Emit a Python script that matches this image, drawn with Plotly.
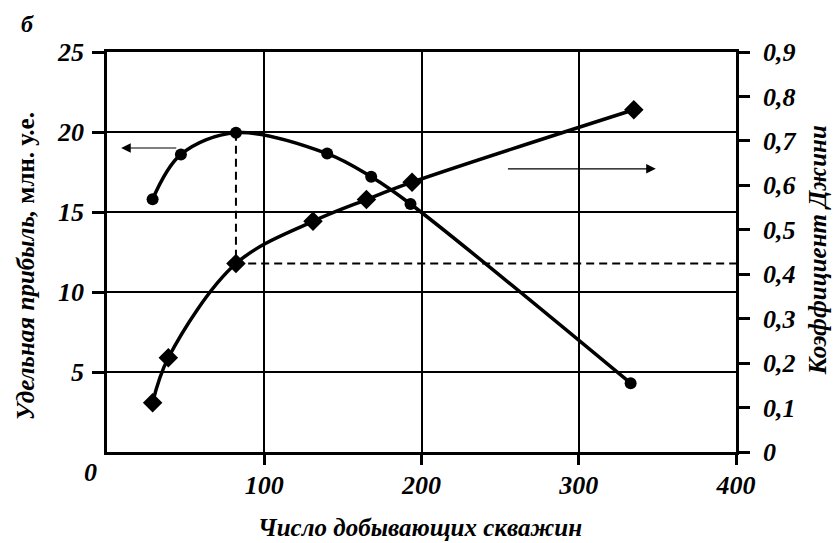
import plotly.graph_objects as go

# Data
profit_x = [29, 47, 82, 140, 168, 193, 333]
profit_y = [15.8, 18.6, 19.95, 18.65, 17.2, 15.5, 4.3]

gini_x = [29, 39, 82, 131, 165, 194, 335]
gini_y = [0.111, 0.212, 0.424, 0.519, 0.568, 0.607, 0.770]

x_ticks = [100, 200, 300, 400]
y_left_ticks = [5, 10, 15, 20, 25]
y_right_ticks = [0, 0.1, 0.2, 0.3, 0.4, 0.5, 0.6, 0.7, 0.8, 0.9]
y_right_text = ["0", "0,1", "0,2", "0,3", "0,4", "0,5", "0,6", "0,7", "0,8", "0,9"]

Y_LEFT_MAX = 25
Y_RIGHT_MAX = 0.9
X_MAX = 400

FONT = "Liberation Serif"
tickfont = dict(family=FONT, size=26, color="black")

fig = go.Figure()

# Dashed guide lines (from profit peak down to Gini curve, then to right axis)
i_peak = profit_y.index(max(profit_y))
peak_x = profit_x[i_peak]
gini_at_peak = gini_y[gini_x.index(peak_x)]
peak_in_right = profit_y[i_peak] * Y_RIGHT_MAX / Y_LEFT_MAX
fig.add_trace(go.Scatter(
    x=[peak_x, peak_x, X_MAX], y=[peak_in_right, gini_at_peak, gini_at_peak],
    yaxis="y2", mode="lines", line=dict(color="black", width=2, dash="8px,5px"),
    hoverinfo="skip", showlegend=False))

fig.add_trace(go.Scatter(
    x=profit_x, y=profit_y, mode="lines+markers",
    line=dict(color="black", width=3.5, shape="spline", smoothing=1.0),
    marker=dict(symbol="circle", size=12, color="black"),
    showlegend=False))

fig.add_trace(go.Scatter(
    x=gini_x, y=gini_y, yaxis="y2", mode="lines+markers",
    line=dict(color="black", width=3.5, shape="spline", smoothing=1.0),
    marker=dict(symbol="diamond", size=15, color="black"),
    showlegend=False))

def bi(s):
    return "<b><i>" + s + "</i></b>"

fig.update_layout(
    width=834, height=543,
    margin=dict(l=107, r=98, t=52, b=91),
    plot_bgcolor="white", paper_bgcolor="white",
    showlegend=False,
    xaxis=dict(
        range=[0, X_MAX], tickvals=x_ticks, ticktext=[bi(str(v)) for v in x_ticks],
        showline=True, linecolor="black", linewidth=2.5, mirror=True,
        ticks="outside", ticklen=10, tickwidth=2.5, tickcolor="black",
        showgrid=True, gridcolor="black", gridwidth=1.6,
        zeroline=False, tickfont=tickfont, ticklabelstandoff=-2,
    ),
    yaxis=dict(
        range=[0, Y_LEFT_MAX], tickvals=y_left_ticks, ticktext=[bi(str(v)) for v in y_left_ticks],
        showline=True, linecolor="black", linewidth=2.5,
        ticks="outside", ticklen=12, tickwidth=2.5, tickcolor="black",
        showgrid=True, gridcolor="black", gridwidth=1.6,
        zeroline=False, tickfont=tickfont, ticklabelstandoff=3,
    ),
    yaxis2=dict(
        range=[0, Y_RIGHT_MAX], tickvals=y_right_ticks, ticktext=[bi(t) for t in y_right_text],
        overlaying="y", side="right",
        showline=True, linecolor="black", linewidth=2.5,
        ticks="outside", ticklen=11, tickwidth=2.5, tickcolor="black",
        showgrid=False, zeroline=False, tickfont=tickfont, ticklabelstandoff=8,
    ),
)

annotations = [
    dict(text=bi("б"), xref="paper", yref="paper", x=-0.126, y=1.07,
         xanchor="center", yanchor="middle", showarrow=False,
         font=dict(family=FONT, size=24, color="black")),
    dict(text=bi("0"), xref="paper", yref="paper", x=-0.027, y=-0.05,
         xanchor="center", yanchor="middle", showarrow=False,
         font=dict(family=FONT, size=26, color="black")),
    dict(text="<b><i>Удельная прибыль,</i> млн. у.е.</b>", xref="paper", yref="paper",
         x=-0.130, y=0.465, xanchor="center", yanchor="middle", textangle=-90,
         showarrow=False, font=dict(family=FONT, size=25, color="black")),
    dict(text=bi("Коэффициент Джини"), xref="paper", yref="paper",
         x=1.129, y=0.505, xanchor="center", yanchor="middle", textangle=-90,
         showarrow=False, font=dict(family=FONT, size=25, color="black")),
    dict(text=bi("Число добывающих скважин"), xref="paper", yref="paper",
         x=0.498, y=-0.1875, xanchor="center", yanchor="middle",
         showarrow=False, font=dict(family=FONT, size=25, color="black")),
    # direction arrows
    dict(text="", x=9, y=19.0, ax=45, ay=19.0, xref="x", yref="y", axref="x", ayref="y",
         showarrow=True, arrowhead=2, arrowsize=1.6, arrowwidth=1.2, arrowcolor="black"),
    dict(text="", x=349, y=17.7, ax=254, ay=17.7, xref="x", yref="y", axref="x", ayref="y",
         showarrow=True, arrowhead=2, arrowsize=1.6, arrowwidth=1.2, arrowcolor="black"),
]
fig.update_layout(annotations=annotations)

fig.write_html("out.html")
